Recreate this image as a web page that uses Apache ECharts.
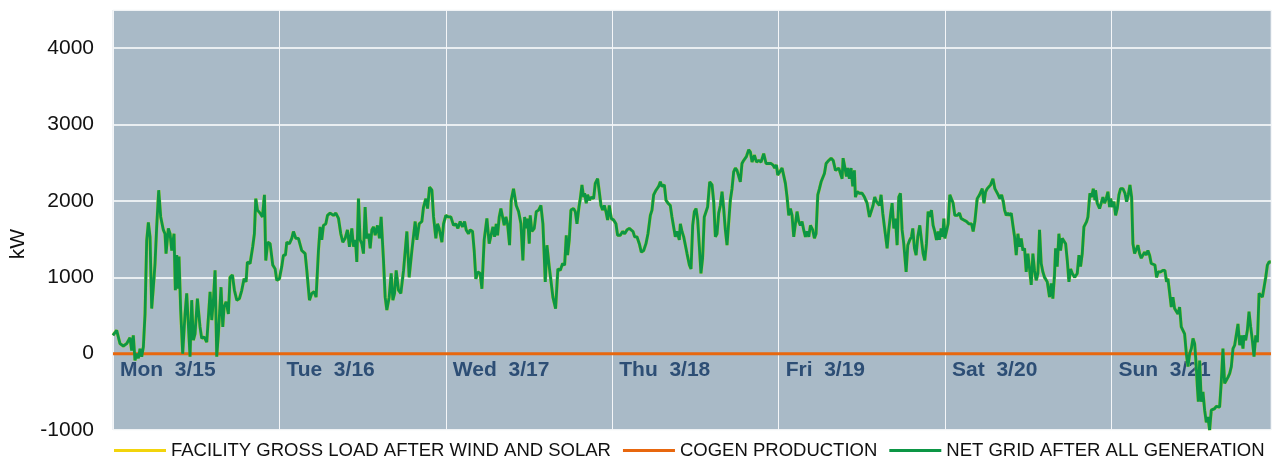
<!DOCTYPE html>
<html>
<head>
<meta charset="utf-8">
<script src="https://cdn.jsdelivr.net/npm/echarts/dist/echarts.min.js"></script>
<style>
html,body{margin:0;padding:0;background:#ffffff;}
#chart{width:1277px;height:460px;}
</style>
</head>
<body>
<div id="chart"></div>
<script>
// ---- data (hours since Mon 3/15 00:00, kW) ----
const dayLabels = ['Mon  3/15', 'Tue  3/16', 'Wed  3/17', 'Thu  3/18', 'Fri  3/19', 'Sat  3/20', 'Sun  3/21'];
const seriesNames = ['FACILITY GROSS LOAD AFTER WIND AND SOLAR', 'COGEN PRODUCTION', 'NET GRID AFTER ALL GENERATION'];
const yRange = [-1000, 4500];
const yStep = 1000;
const hourRange = [0, 167];

const netGrid = [
[0,240],[0.53,305],[1.01,130],[1.49,100],[1.97,130],[2.45,210],[2.69,40],[2.93,240],[3.17,-90],[3.42,0],[3.66,-60],[3.90,65],[4.14,-40],[4.38,90],[4.62,520],[4.86,1480],[5.10,1720],[5.34,1530],[5.58,590],[5.82,870],[6.06,1180],[6.30,1660],[6.59,2140],[6.88,1790],[7.26,1620],[7.50,1570],[7.65,1310],[7.98,1640],[8.23,1570],[8.47,1350],[8.80,1570],[8.99,830],[9.19,1290],[9.38,850],[9.52,1270],[9.76,570],[10.05,0],[10.39,520],[10.63,790],[10.87,810],[11.11,-40],[11.35,700],[11.59,175],[11.83,260],[12.17,720],[12.55,350],[12.79,200],[13.13,220],[13.52,150],[13.76,175],[14.0,810],[14.24,440],[14.48,700],[14.72,1090],[14.96,-40],[15.2,260],[15.58,870],[15.83,350],[16.02,610],[16.31,680],[16.64,520],[16.88,1000],[17.22,1030],[17.51,830],[17.85,700],[18.23,720],[18.57,830],[18.9,980],[19.19,940],[19.38,1200],[19.77,1180],[20.15,1400],[20.39,1570],[20.59,2030],[20.83,1880],[21.21,1840],[21.55,1790],[21.84,2080],[22.03,1220],[22.32,1460],[22.66,1440],[23.04,1160],[23.38,1110],[23.62,960],[24.0,980],[24.34,1140],[24.58,1290],[24.87,1290],[25.06,1460],[25.44,1440],[25.78,1510],[26.02,1600],[26.36,1510],[26.74,1510],
[26.98,1490],[27.22,1350],[27.71,1310],[27.95,1090],[28.33,700],[28.67,790],[29.0,810],[29.29,740],[29.63,1350],[29.87,1660],[30.11,1490],[30.35,1680],[30.69,1700],[30.93,1810],[31.31,1840],[31.79,1810],[32.13,1840],[32.52,1770],[32.85,1570],[33.14,1460],[33.48,1510],[33.81,1620],[34.1,1400],[34.44,1640],[34.68,1400],[34.97,1490],[35.16,1200],[35.4,2030],[35.64,1490],[35.88,1440],[36.12,1310],[36.36,1920],[36.6,1510],[36.85,1570],[37.09,1380],[37.33,1620],[37.57,1660],[37.81,1550],[38.14,1680],[38.43,1510],[38.67,1790],[39.01,1220],[39.25,740],[39.49,570],[39.83,740],[40.12,1050],[40.36,700],[40.6,790],[40.84,1090],[41.17,830],[41.51,790],[41.9,1090],[42.38,1600],[42.71,1000],[43.1,1350],[43.58,1730],[43.82,1490],[44.16,1700],[44.54,1730],[44.78,1920],[45.12,2030],[45.36,1900],[45.65,2180],[45.99,2140],[46.23,1790],[46.56,1510],[46.8,1700],[47.04,1640],[47.43,1460],[47.67,1700],[48.0,1810],[48.39,1790],[48.72,1790],[49.11,1680],[49.45,1700],[49.74,1640],[50.07,1730],[50.41,1660],[50.7,1730],[50.94,1620],[51.27,1570],[51.51,1620],[51.85,1600],[52.09,1350],[52.33,980],[52.62,1070],[52.95,1050],[53.2,850],[53.53,1490],[53.92,1770],[54.25,1440],
[54.4,1420],[54.79,1660],[55.03,1530],[55.27,1700],[55.46,1550],[55.7,1790],[55.94,1900],[56.18,1880],[56.42,1680],[56.66,1790],[56.9,1700],[57.19,1420],[57.43,2010],[57.76,2160],[58.15,1940],[58.49,1860],[58.83,1700],[59.11,1220],[59.36,1790],[59.6,1640],[59.79,1770],[60.03,1440],[60.17,1810],[60.41,1600],[60.75,1640],[61.04,1860],[61.38,1880],[61.71,1940],[62.0,1700],[62.34,940],[62.58,1420],[62.91,1140],[63.15,960],[63.44,740],[63.83,590],[64.16,1110],[64.5,1090],[64.84,1180],[65.13,1160],[65.37,1550],[65.56,1290],[65.8,1490],[66.04,1880],[66.43,1900],[66.67,1860],[66.91,1700],[67.2,1920],[67.39,2030],[67.63,2210],[67.87,2050],[68.01,2100],[68.25,1970],[68.44,2080],[68.73,2010],[68.97,2050],[69.31,2030],[69.55,2230],[69.89,2290],[70.13,2120],[70.37,1940],[70.61,1880],[70.85,1940],[71.09,1860],[71.33,1750],[71.57,1940],[71.86,1770],[72.2,1750],[72.53,1700],[72.77,1550],[73.16,1550],[73.5,1600],[73.79,1570],[74.12,1620],[74.46,1640],[74.7,1660],[74.99,1600],[75.23,1530],[75.56,1530],[75.9,1440],[76.19,1330],[76.53,1350],[76.86,1440],[77.15,1570],[77.49,1810],[77.73,1880],[77.97,2080],[78.31,2140],[78.69,2190],[78.93,2250],[79.17,2190],[79.51,2210],[79.75,2010],[80.04,1970],[80.37,1940],[80.61,1790],[80.85,1790],[81.09,1530],[81.33,1600],[81.67,1490],
[81.82,1700],[82.06,1600],[82.3,1530],[82.54,1550],[82.78,1310],[83.12,1160],[83.36,1110],[83.6,1680],[83.84,1860],[84.08,1900],[84.32,1750],[84.56,1400],[84.79,1050],[85.03,1250],[85.27,1790],[85.51,1810],[85.75,1920],[86.05,2250],[86.39,2210],[86.63,1990],[86.87,1530],[87.11,1570],[87.35,1840],[87.59,1940],[87.83,2120],[88.07,1900],[88.31,1620],[88.55,1420],[88.79,1420],[89.03,2010],[89.27,2160],[89.51,2380],[89.75,2430],[89.99,2400],[90.23,2400],[90.47,2250],[90.71,2490],[90.95,2530],[91.34,2580],[91.68,2670],[91.92,2640],[92.16,2510],[92.5,2600],[92.79,2510],[93.12,2530],[93.46,2510],[93.84,2620],[94.18,2490],[94.57,2490],[94.9,2490],[95.19,2470],[95.43,2430],[95.67,2470],[95.86,2340],[96.15,2380],[96.49,2430],[96.73,2450],[96.97,2230],[97.21,2050],[97.45,1810],[97.69,1900],[97.93,1810],[98.17,1530],[98.41,1700],[98.65,1860],[98.89,1730],[99.13,1680],[99.37,1730],[99.61,1620],[99.86,1530],[100.1,1600],[100.34,1530],[100.58,1680],[100.91,1620],[101.15,1510],[101.39,1570],[101.64,2080],[101.88,2160],[102.12,2250],[102.36,2250],[102.6,2360],[102.84,2490],[103.22,2530],[103.56,2560],[103.86,2530],[104.19,2400],[104.43,2380],[104.67,2430],[104.91,2450],[105.15,2290],[105.29,2560],[105.48,2470],[105.77,2320],[105.96,2430],[106.2,2290],[106.44,2430],[106.68,2190],[106.92,2400],[107.07,2050],[107.31,2120],[107.64,2100],[108.03,2100],[108.37,2050],[108.75,1970],[109.09,1790],
[109.23,1790],[109.61,1940],[109.85,2050],[110.1,1990],[110.34,2010],[110.53,1940],[110.77,2080],[111.01,1840],[111.25,1660],[111.64,1380],[111.88,1620],[112.12,1810],[112.36,1970],[112.6,1640],[112.84,1770],[113.08,1420],[113.32,2050],[113.56,2100],[113.8,1620],[114.04,1440],[114.38,1070],[114.62,1420],[114.91,1490],[115.15,1530],[115.34,1640],[115.58,1380],[115.82,1290],[116.06,1530],[116.35,1680],[116.59,1490],[116.83,1310],[117.07,1220],[117.31,1440],[117.55,1860],[117.79,1790],[118.03,1880],[118.27,1680],[118.51,1600],[118.76,1490],[119.0,1600],[119.19,1490],[119.43,1640],[119.67,1530],[119.81,1770],[119.96,1510],[120.2,1600],[120.44,1700],[120.68,2080],[120.92,2100],[121.16,1970],[121.4,1810],[121.74,1810],[122.08,1840],[122.32,1770],[122.7,1750],[123.09,1730],[123.42,1700],[123.81,1700],[124.05,1600],[124.29,1730],[124.63,2030],[124.97,2080],[125.21,2080],[125.36,2160],[125.6,1970],[125.84,2120],[126.08,2160],[126.32,2160],[126.56,2210],[126.9,2290],[127.18,2160],[127.42,2160],[127.66,2080],[127.91,2030],[128.15,2080],[128.39,1990],[128.58,1880],[128.82,1810],[129.06,1840],[129.3,1810],[129.54,1840],[129.78,1680],[130.02,1530],[130.26,1290],[130.5,1570],[130.74,1400],[130.98,1510],[131.22,1350],[131.46,1380],[131.7,1070],[131.94,1310],[132.18,1110],[132.42,900],[132.66,1310],[132.9,1090],[133.14,960],[133.38,1050],[133.62,1620],[133.86,1180],[134.1,1070],[134.34,1000],[134.73,940],[135.06,740],[135.3,920],[135.54,720],[135.78,1030],[135.93,1380],[136.17,1140],[136.41,1570],
[136.65,1350],[136.89,1510],[137.13,1490],[137.38,1440],[137.62,1220],[137.86,940],[138.1,1110],[138.34,1050],[138.68,1000],[139.06,1050],[139.3,1290],[139.54,1140],[139.78,1310],[140.02,1660],[140.41,1730],[140.6,1790],[140.88,2100],[141.13,2050],[141.37,2160],[141.61,2010],[141.7,2140],[141.94,1970],[142.28,1900],[142.52,1970],[142.76,2050],[143.0,1970],[143.24,2030],[143.48,2120],[143.72,1920],[143.87,2030],[144.11,1920],[144.35,1990],[144.59,1810],[144.83,1900],[145.07,2080],[145.31,2160],[145.65,2160],[145.94,2100],[146.18,1990],[146.42,2080],[146.66,2210],[146.9,2050],[147.09,1440],[147.33,1310],[147.57,1330],[147.81,1420],[148.05,1310],[148.29,1250],[148.53,1270],[148.77,1330],[149.01,1290],[149.25,1350],[149.49,1290],[149.73,1180],[149.98,1160],[150.26,1160],[150.5,1000],[150.74,1070],[151.08,1070],[151.41,1090],[151.7,1090],[151.94,940],[152.14,980],[152.38,960],[152.62,610],[152.86,740],[153.1,590],[153.34,610],[153.58,520],[153.82,610],[154.06,350],[154.3,330],[154.54,260],[154.79,0],[155.03,-170],[155.27,0],[155.51,65],[155.75,200],[155.99,130],[156.23,-170],[156.38,-440],[156.52,-630],[156.71,-90],[156.95,-630],[157.19,-500],[157.43,-740],[157.67,-900],[157.91,-830],[158.15,-1000],[158.39,-740],[158.63,-720],[158.87,-720],[159.11,-690],[159.35,-710],[159.59,-700],[159.83,-370],[160.07,65],[160.31,-390],[160.55,-350],[160.79,-310],[161.04,-260],[161.28,-170],[161.52,65],[161.76,110],[162.0,130],[162.24,390],[162.48,110],[162.72,240],[162.96,65],[163.11,240],[163.35,175],[163.59,305],[163.83,550],[164.07,350],[164.31,175],[164.55,-40],[164.8,240],[165.04,150],[165.28,790],[165.52,790],[165.76,740],[166.0,870],[166.24,1000],[166.48,1160],[166.72,1200],[166.96,1200]
];
// Cogen produced nothing all week; gross load equals the net grid line (hidden beneath it)
const cogenProduction = [[0,0],[24,0],[48,0],[72,0],[96,0],[120,0],[144,0],[167,0]];
const facilityGrossLoad = netGrid;

const FONT = 'Arial, "Liberation Sans", sans-serif';
const GRID = {left: 113, right: 6, top: 10, bottom: 30};
const plotHeight = 460 - GRID.top - GRID.bottom;
// day labels hang just below the zero line (category axis crosses at 0)
const zeroOffset = -plotHeight * (0 - yRange[0]) / (yRange[1] - yRange[0]);

const chart = echarts.init(document.getElementById('chart'), null, {renderer: 'canvas'});
chart.setOption({
  animation: false,
  backgroundColor: '#ffffff',
  grid: Object.assign({
    show: true, backgroundColor: '#A9BAC7', borderColor: '#DCE3E8', borderWidth: 1
  }, GRID),
  legend: {
    left: 114, top: 441, padding: 0,
    icon: 'rect', itemWidth: 52, itemHeight: 3, itemGap: 12,
    textStyle: {fontFamily: FONT, fontSize: 18.5, color: '#111111'},
    data: seriesNames
  },
  graphic: [{
    type: 'text', x: 18, y: 244, rotation: Math.PI / 2,
    style: {text: 'kW', font: '21px ' + FONT, fill: '#111111', align: 'center', verticalAlign: 'middle'}
  }],
  xAxis: {
    type: 'value', min: hourRange[0], max: hourRange[1], interval: 24,
    position: 'bottom', offset: zeroOffset,
    axisLine: {show: false, onZero: false},
    axisTick: {show: false},
    splitLine: {show: true, lineStyle: {color: '#F4F6F8', width: 1}},
    axisLabel: {
      showMaxLabel: false,
      formatter: v => dayLabels[v / 24] || '',
      align: 'left', padding: [0, 0, 0, 7], margin: 6,
      fontFamily: FONT, fontSize: 21, fontWeight: 'bold', color: '#2D4E75'
    }
  },
  yAxis: {
    type: 'value', min: yRange[0], max: yRange[1], interval: yStep,
    axisLine: {show: false}, axisTick: {show: false},
    splitLine: {lineStyle: {color: '#FFFFFF', width: 1.5}},
    axisLabel: {showMaxLabel: false, margin: 19, fontFamily: FONT, fontSize: 21, color: '#111111',
      formatter: v => String(v)}
  },
  series: [
    {name: seriesNames[0], type: 'line', data: facilityGrossLoad, showSymbol: false, symbol: 'none',
     color: '#F2D40C', lineStyle: {width: 3.4, color: '#B8D23A'}, z: 2},
    {name: seriesNames[1], type: 'line', data: cogenProduction, showSymbol: false, symbol: 'none',
     color: '#E8670E', lineStyle: {width: 3, color: '#E8670E'}, z: 3},
    {name: seriesNames[2], type: 'line', data: netGrid, showSymbol: false, symbol: 'none',
     color: '#0C9645', lineStyle: {width: 2.8, color: '#0C9645'}, z: 4}
  ]
});
</script>
</body>
</html>
